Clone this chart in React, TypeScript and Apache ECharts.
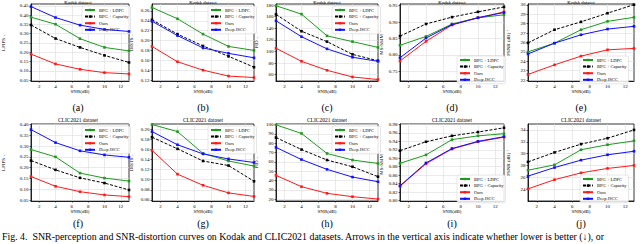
import React, { useEffect, useRef } from 'react';
import * as echarts from 'echarts';

const SNR = [1, 4, 7, 10, 13];
const X_TICKS = [2, 4, 6, 8, 10, 12];
const NAMES = ['BPG + LDPC', 'BPG + Capacity', 'Ours', 'Deep JSCC'];

// order: BPG+LDPC, BPG+Capacity, Ours, Deep JSCC
const kodakLPIPS = [
  [0.389, 0.351, 0.273, 0.226, 0.207],
  [0.347, 0.274, 0.226, 0.183, 0.145],
  [0.19, 0.137, 0.108, 0.09, 0.083],
  [0.446, 0.387, 0.346, 0.323, 0.312],
];
const kodakDISTS = [
  [0.267, 0.244, 0.213, 0.188, 0.18],
  [0.242, 0.213, 0.189, 0.168, 0.146],
  [0.188, 0.157, 0.14, 0.128, 0.125],
  [0.239, 0.21, 0.185, 0.174, 0.165],
];
const kodakFID = [
  [179, 164.5, 127, 117, 107],
  [164, 135, 117, 95, 84],
  [105.5, 83, 67.5, 56, 51.5],
  [153, 125.5, 104.5, 90, 83],
];
const kodakMSSSIM = [
  [0.829, 0.856, 0.894, 0.913, 0.922],
  [0.857, 0.894, 0.915, 0.931, 0.946],
  [0.781, 0.841, 0.891, 0.913, 0.931],
  [0.791, 0.851, 0.892, 0.913, 0.929],
];
const kodakPSNR = [
  [25.0, 25.93, 27.36, 28.25, 28.68],
  [25.96, 27.36, 28.2, 29.12, 30.03],
  [22.6, 23.62, 24.55, 25.22, 25.37],
  [24.78, 25.93, 26.82, 27.43, 27.72],
];
const clicLPIPS = [
  [0.284, 0.25, 0.175, 0.152, 0.138],
  [0.233, 0.19, 0.153, 0.129, 0.097],
  [0.159, 0.114, 0.089, 0.074, 0.066],
  [0.376, 0.316, 0.278, 0.259, 0.248],
];
const clicDISTS = [
  [0.209, 0.195, 0.152, 0.137, 0.127],
  [0.184, 0.161, 0.137, 0.128, 0.097],
  [0.158, 0.111, 0.089, 0.074, 0.067],
  [0.195, 0.169, 0.151, 0.141, 0.134],
];
const clicFID = [
  [99.6, 90.4, 69, 62, 58.3],
  [86, 73.2, 62, 54.8, 44.2],
  [45.6, 33.5, 26.4, 22.8, 20.3],
  [75.5, 62.5, 52, 43.8, 38.8],
];
const clicMSSSIM = [
  [0.888, 0.908, 0.944, 0.953, 0.958],
  [0.918, 0.939, 0.953, 0.962, 0.972],
  [0.834, 0.887, 0.922, 0.939, 0.95],
  [0.835, 0.889, 0.923, 0.94, 0.951],
];
const clicPSNR = [
  [27.2, 28.1, 30.65, 31.5, 32.15],
  [28.6, 30.2, 31.6, 32.6, 34.0],
  [24.05, 25.6, 26.75, 27.5, 28.0],
  [26.2, 27.65, 28.9, 29.8, 30.4],
];

const T_LPIPS_K = [0.05, 0.1, 0.15, 0.2, 0.25, 0.3, 0.35, 0.4, 0.45];
const T_DISTS_K = [0.12, 0.14, 0.16, 0.18, 0.2, 0.22, 0.24, 0.26];
const T_FID_K = [60, 80, 100, 120, 140, 160, 180];
const T_MSSSIM_K = [0.75, 0.8, 0.85, 0.9, 0.95];
const T_PSNR_K = [22, 23, 24, 25, 26, 27, 28, 29, 30];
const T_LPIPS_C = [0.05, 0.1, 0.15, 0.2, 0.25, 0.3, 0.35, 0.4];
const T_DISTS_C = [0.06, 0.08, 0.1, 0.12, 0.14, 0.16, 0.18, 0.2];
const T_FID_C = [20, 30, 40, 50, 60, 70, 80, 90, 100];
const T_MSSSIM_C = [0.8, 0.82, 0.84, 0.86, 0.88, 0.9, 0.92, 0.94, 0.96, 0.98];
const T_PSNR_C = [24, 26, 28, 30, 32, 34];

const COLORS = ['#1f9a1f', '#000000', '#ff1a1a', '#1010ff'];
const SERIF = '"Liberation Serif", "DejaVu Serif", serif';

type Panel = {
  data: number[][];
  ticks: number[];
  dec: number;
  yName: string;
  title: string;
  sub: string;
  left: number;
  top: number;
  width: number;
  height: number;
  yMin: number;
  yMax: number;
  nameGap: number;
  legLeft: number;
  legTop: number;
};

const TOP1 = 4;
const TOP2 = 124;
const H = 77;

const PANELS: Panel[] = [
  { data: kodakLPIPS, ticks: T_LPIPS_K, dec: 2, yName: 'LPIPS ↓', title: 'Kodak dataset', sub: '(a)', left: 27, top: TOP1, width: 102, height: H, yMin: 0.045, yMax: 0.46, nameGap: 17, legLeft: 82, legTop: 6 },
  { data: kodakDISTS, ticks: T_DISTS_K, dec: 2, yName: 'DISTS ↓', title: 'Kodak dataset', sub: '(b)', left: 152, top: TOP1, width: 102, height: H, yMin: 0.118, yMax: 0.274, nameGap: 10, legLeft: 208, legTop: 6 },
  { data: kodakFID, ticks: T_FID_K, dec: 0, yName: 'FID ↓', title: 'Kodak dataset', sub: '(c)', left: 276, top: TOP1, width: 102, height: H, yMin: 49, yMax: 182, nameGap: 9, legLeft: 332, legTop: 6 },
  { data: kodakMSSSIM, ticks: T_MSSSIM_K, dec: 2, yName: 'MS-SSIM ↑', title: 'Kodak dataset', sub: '(d)', left: 400, top: TOP1, width: 104, height: H, yMin: 0.72, yMax: 0.955, nameGap: 8, legLeft: 457, legTop: 56 },
  { data: kodakPSNR, ticks: T_PSNR_K, dec: 0, yName: 'PSNR (dB) ↑', title: 'Kodak dataset', sub: '(e)', left: 528, top: TOP1, width: 106, height: H, yMin: 21.9, yMax: 30.1, nameGap: 9, legLeft: 580, legTop: 56 },
  { data: clicLPIPS, ticks: T_LPIPS_C, dec: 2, yName: 'LPIPS ↓', title: 'CLIC2021 dataset', sub: '(f)', left: 27, top: TOP2, width: 102, height: H, yMin: 0.046, yMax: 0.402, nameGap: 17, legLeft: 82, legTop: 126 },
  { data: clicDISTS, ticks: T_DISTS_C, dec: 2, yName: 'DISTS ↓', title: 'CLIC2021 dataset', sub: '(g)', left: 152, top: TOP2, width: 102, height: H, yMin: 0.058, yMax: 0.21, nameGap: 10, legLeft: 208, legTop: 126 },
  { data: clicFID, ticks: T_FID_C, dec: 0, yName: 'FID ↓', title: 'CLIC2021 dataset', sub: '(h)', left: 276, top: TOP2, width: 102, height: H, yMin: 18.2, yMax: 100.5, nameGap: 9, legLeft: 332, legTop: 126 },
  { data: clicMSSSIM, ticks: T_MSSSIM_C, dec: 2, yName: 'MS-SSIM ↑', title: 'CLIC2021 dataset', sub: '(i)', left: 400, top: TOP2, width: 104, height: H, yMin: 0.799, yMax: 0.981, nameGap: 8, legLeft: 457, legTop: 175 },
  { data: clicPSNR, ticks: T_PSNR_C, dec: 0, yName: 'PSNR (dB) ↑', title: 'CLIC2021 dataset', sub: '(j)', left: 528, top: TOP2, width: 106, height: H, yMin: 22, yMax: 35, nameGap: 9, legLeft: 580, legTop: 175 },
];

const CAPTION =
  'Fig. 4.  SNR-perception and SNR-distortion curves on Kodak and CLIC2021 datasets. Arrows in the vertical axis indicate whether lower is better (↓), or';

function buildOption() {
  const grid: any[] = [];
  const xAxis: any[] = [];
  const yAxis: any[] = [];
  const series: any[] = [];
  const title: any[] = [];
  const legend: any[] = [];
  const graphic: any[] = [];
  const tickStyle = { fontSize: 5, color: '#000', fontFamily: SERIF };

  PANELS.forEach((p, i) => {
    grid.push({
      left: p.left, top: p.top, width: p.width, height: p.height,
      show: true, borderColor: '#000', borderWidth: 0.8, containLabel: false,
    });
    xAxis.push({
      type: 'value', gridIndex: i, min: 1, max: 13,
      name: 'SNR(dB)', nameLocation: 'middle', nameGap: 8,
      nameTextStyle: { fontSize: 5, fontFamily: SERIF, color: '#000' },
      axisLine: { show: true, lineStyle: { color: '#000', width: 0.8 } },
      axisTick: { show: true, length: 1.5, customValues: X_TICKS, lineStyle: { color: '#000', width: 0.6 } },
      axisLabel: { ...tickStyle, margin: 2.5, customValues: X_TICKS },
      splitLine: { show: true, lineStyle: { color: '#dcdcdc', width: 0.6 } },
    });
    yAxis.push({
      type: 'value', gridIndex: i, min: p.yMin, max: p.yMax,
      name: p.yName, nameLocation: 'middle', nameGap: p.nameGap + 8, nameRotate: 90,
      nameTextStyle: { fontSize: 5, fontFamily: SERIF, color: '#000' },
      axisLine: { show: true, lineStyle: { color: '#000', width: 0.8 } },
      axisTick: { show: true, length: 1.5, customValues: p.ticks, lineStyle: { color: '#000', width: 0.6 } },
      axisLabel: {
        ...tickStyle, margin: 2.5, customValues: p.ticks,
        formatter: (v: number) => v.toFixed(p.dec),
      },
      splitLine: { show: true, lineStyle: { color: '#dcdcdc', width: 0.6 } },
    });
    title.push({
      text: p.title, left: p.left + p.width / 2, top: i < 5 ? -0.5 : p.top - 7, textAlign: 'center',
      textStyle: { fontSize: i < 5 ? 4.8 : 5.5, fontWeight: 'normal', fontFamily: SERIF, color: '#000' },
      padding: 0,
    });
    legend.push({
      show: true, orient: 'vertical', left: p.legLeft, top: p.legTop,
      data: NAMES, itemWidth: 10, itemHeight: 3, itemGap: 1.6,
      padding: [1.5, 2, 1.5, 2], borderColor: '#cccccc', borderWidth: 0.5, borderRadius: 2,
      backgroundColor: 'rgba(255,255,255,0.85)',
      textStyle: { fontSize: 4.5, fontFamily: SERIF, color: '#000', padding: [0, 0, 0, -1] },
      selectedMode: false,
    });
    p.data.forEach((vals, k) => {
      series.push({
        type: 'line', name: NAMES[k], xAxisIndex: i, yAxisIndex: i,
        data: SNR.map((x, j) => [x, vals[j]]),
        symbol: 'rect', symbolSize: 2.6, showSymbol: true,
        lineStyle: { color: COLORS[k], width: 1.0, type: k === 1 ? [3, 1.6] : 'solid' },
        itemStyle: { color: COLORS[k] },
        z: 2 + k,
      });
    });
    graphic.push({
      type: 'text', x: p.left + p.width / 2, y: p.top + p.height + (i < 5 ? 26 : 22),
      style: { text: p.sub, font: '10px "Liberation Serif"', fill: '#000', align: 'center', verticalAlign: 'middle' },
    });
  });

  graphic.push({
    type: 'text', x: 2, y: 236,
    style: { text: CAPTION, font: '9.9px "Liberation Serif"', fill: '#000', align: 'left', verticalAlign: 'middle' },
  });

  return { animation: false, backgroundColor: '#fff', grid, xAxis, yAxis, series, title, legend, graphic };
}

export default function App() {
  const ref = useRef<HTMLDivElement>(null);
  useEffect(() => {
    document.body.style.margin = '0';
    const chart = echarts.init(ref.current!, undefined, { renderer: 'svg' });
    chart.setOption(buildOption() as any);
    return () => chart.dispose();
  }, []);
  return <div ref={ref} style={{ width: 640, height: 244 }} />;
}
